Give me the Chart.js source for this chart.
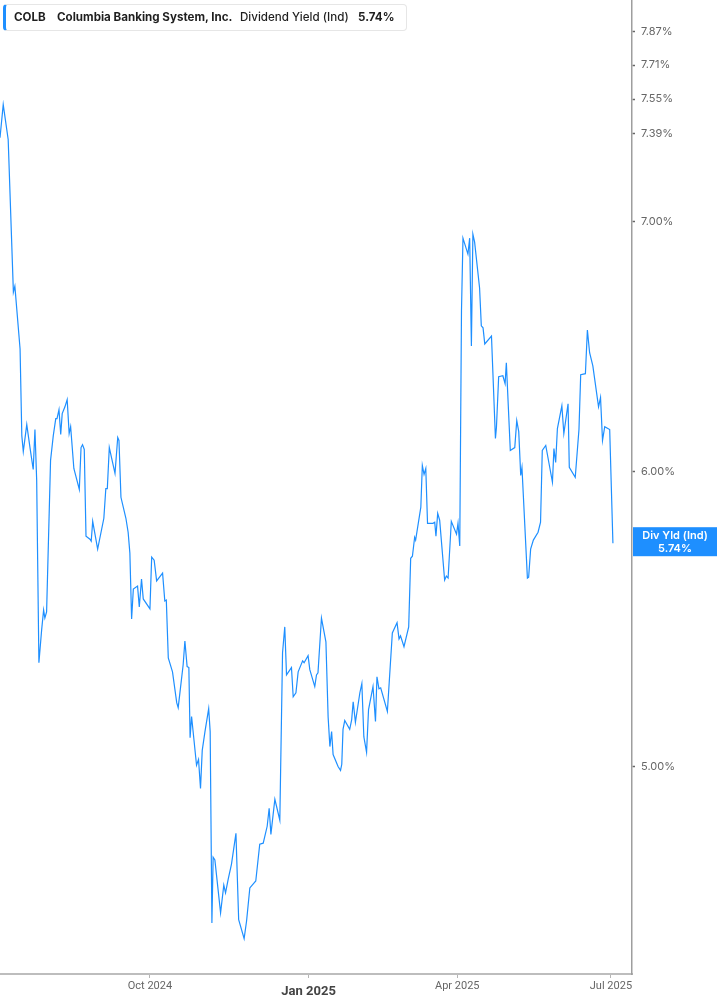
<!DOCTYPE html>
<html>
<head>
<meta charset="utf-8">
<script src="https://cdn.jsdelivr.net/npm/chart.js@4.4.1/dist/chart.umd.min.js"></script>
<style>
  html, body { margin: 0; padding: 0; background: #fff; }
  #wrap { position: relative; width: 717px; height: 1005px; }
  #legend {
    position: absolute; left: 3px; top: 4px; width: 400px; height: 25px;
    border: 1px solid #e6e6e6; border-left: 3px solid #1e8fff; border-radius: 4px;
    background: #fff; font-family: Inter, "Noto Sans", sans-serif; font-size: 11.6px;
    color: #1f1f1f; line-height: 25px; white-space: nowrap;
  }
  #legend span { position: absolute; top: 0; }
  .b { font-weight: 700; }
  .m { font-weight: 500; }
</style>
</head>
<body>
<div id="wrap">
  <canvas id="YieldCanvas" width="717" height="1005"></canvas>
  <div id="legend">
    <span class="b" style="left:8px">COLB</span>
    <span class="b" style="left:51px">Columbia Banking System, Inc.</span>
    <span class="m" style="left:234px">Dividend Yield (Ind)</span>
    <span class="b" style="left:352px">5.74%</span>
  </div>
</div>
<script>
//------------------------------------------------------------------------------
// COLB dividend yield (ind), trading-day index from the first day shown
//------------------------------------------------------------------------------
const tradingDays = [0,1.3,3.3,5.4,6.0,8.1,8.8,9.4,10.8,12.1,13.4,14.1,14.8,15.7,16.8,17.6,18.1,18.8,20.4,21.5,
  22.5,23.0,23.8,24.5,25.1,26.2,27.1,27.9,28.5,29.8,32.0,32.7,33.3,34.0,34.7,36.3,36.8,37.4,39.4,41.9,
  42.7,43.3,44.1,46.4,47.5,48.0,48.8,50.8,51.7,52.4,53.1,53.8,55.5,56.2,57.1,57.8,60.5,61.2,62.2,63.2,
  65.6,66.5,67.1,67.9,69.6,71.3,71.9,73.9,74.6,75.5,76.2,76.7,77.3,79.3,80.1,80.9,81.6,82.7,84.2,84.8,
  85.5,86.0,86.7,89.0,90.3,91.0,92.1,93.4,95.2,96.3,98.5,99.5,100.8,103.2,104.8,106.2,107.8,108.6,109.3,110.9,
  112.9,114.0,114.9,115.6,117.6,118.3,119.4,120.3,122.1,122.7,124.3,125.0,127.0,127.7,128.3,129.7,131.5,132.4,133.1,133.8,
  134.4,136.4,137.4,137.9,138.4,139.1,141.1,141.9,142.5,143.4,145.2,146.0,146.8,147.9,148.7,150.5,151.5,152.1,152.9,153.6,
  156.3,158.3,160.2,161.0,161.6,163.0,164.9,165.7,166.4,167.3,167.7,169.8,170.4,171.1,171.8,172.5,174.7,175.4,175.9,176.6,
  177.4,179.4,180.1,180.8,182.1,184.2,184.8,185.5,186.2,186.8,188.8,189.5,190.2,190.8,191.5,193.5,194.2,194.9,195.6,198.3,
  199.9,200.3,201.2,202.9,203.8,204.3,205.9,207.7,208.5,209.3,210.1,210.6,212.8,213.3,214.1,215.2,217.1,218.1,218.8,220.2,
  222.9,223.5,224.2,224.9,226.7,227.5,229.2,229.7,232.1,233.6,234.3,236.2,237.0,237.9,239.2,241.5,242.3,243.1,244.0,246.0,
  247.3]

const divYield = [7.372,7.524,7.364,6.702,6.727,6.471,6.134,6.074,6.176,6.089,6.007,6.157,5.967,5.332,5.441,5.508,5.481,5.502,6.041,6.134,
  6.199,6.199,6.233,6.138,6.218,6.244,6.272,6.142,6.168,6.011,5.934,6.089,6.100,6.082,5.765,5.754,5.747,5.818,5.719,5.829,
  5.937,5.937,6.089,5.993,6.127,6.116,5.905,5.829,5.779,5.705,5.478,5.580,5.590,5.519,5.614,5.546,5.512,5.691,5.680,5.608,
  5.635,5.539,5.542,5.348,5.302,5.202,5.186,5.325,5.404,5.319,5.316,5.091,5.158,5.005,5.023,4.934,5.051,5.110,5.183,5.110,
  4.541,4.729,4.721,4.569,4.648,4.626,4.666,4.709,4.799,4.550,4.497,4.547,4.640,4.660,4.767,4.770,4.820,4.874,4.796,4.901,
  4.838,5.365,5.451,5.292,5.316,5.221,5.234,5.302,5.338,5.332,5.355,5.309,5.254,5.292,5.299,5.481,5.401,5.155,5.063,5.110,
  5.038,5.001,4.989,5.008,5.117,5.145,5.117,5.148,5.205,5.139,5.234,5.264,5.094,5.045,5.180,5.254,5.142,5.286,5.247,5.250,
  5.174,5.431,5.465,5.411,5.421,5.385,5.451,5.687,5.694,5.761,5.751,5.869,6.022,5.989,6.011,5.811,5.811,5.815,5.765,5.847,
  5.822,5.611,5.625,5.618,5.818,5.772,5.811,5.730,6.624,6.929,6.861,6.929,6.483,6.946,6.912,6.719,6.564,6.556,6.491,6.523,
  6.123,6.165,6.361,6.365,6.334,6.416,6.078,6.089,6.191,6.149,5.985,6.015,5.618,5.621,5.719,5.751,5.779,5.815,6.078,6.097,
  5.960,6.085,6.033,6.161,6.248,6.142,6.256,6.015,5.978,6.157,6.369,6.373,6.547,6.456,6.404,6.244,6.280,6.116,6.168,6.157,
  5.740]

// x axis ticks (trading-day index of first session of the month)
const monthTickDays = [60.5, 124.5, 184.5, 246.5]
const monthTickLabels = ['Oct 2024', 'Jan 2025', 'Apr 2025', 'Jul 2025']

// y axis ticks (percent)
const yieldTicks = [5.00, 6.00, 7.00, 7.39, 7.55, 7.71, 7.87]

const lineColor = '#1e8fff'
const lastValue = divYield[divYield.length - 1]

let points = []
for (let i = 0; i < Math.min(tradingDays.length, divYield.length); i++) {
    points.push({ x: tradingDays[i], y: divYield[i] })
}

// no extra room for half labels at the ends of the axes
function noEndPadding(scale) {
    scale.paddingTop = 0
    scale.paddingBottom = 0
    scale.paddingLeft = 0
    scale.paddingRight = 0
}

// value tag on the right axis at the last point
const lastValueTag = {
    id: 'lastValueTag',
    afterDraw(chart) {
        const ctx = chart.ctx
        const yPix = chart.scales.y.getPixelForValue(lastValue)
        const left = chart.chartArea.right + 1
        const w = chart.width - left
        ctx.save()
        ctx.fillStyle = lineColor
        ctx.fillRect(left, yPix - 16, w, 29)
        ctx.fillStyle = '#fff'
        ctx.font = '600 11px Inter, "Noto Sans", sans-serif'
        ctx.textAlign = 'center'
        ctx.textBaseline = 'middle'
        ctx.fillText('Div Yld (Ind)', left + w / 2, yPix - 8)
        ctx.fillText(lastValue.toFixed(2) + '%', left + w / 2, yPix + 5)
        ctx.restore()
    }
}

const yieldCanvas = document.getElementById('YieldCanvas')
const yieldChart = new Chart(yieldCanvas, {
    type: 'line',
    data: {
        datasets: [{
            label: 'Dividend Yield (Ind)',
            data: points,
            borderColor: lineColor,
            borderWidth: 1.2,
            pointRadius: 0,
            tension: 0,
            fill: false
        }]
    },
    options: {
        responsive: false,
        animation: false,
        layout: { padding: 0 },
        plugins: {
            legend: { display: false },
            tooltip: { enabled: false }
        },
        scales: {
            x: {
                type: 'linear',
                min: 0,
                max: 255,
                afterBuildTicks: (scale) => { scale.ticks = monthTickDays.map(v => ({ value: v })) },
                afterFit: (scale) => { scale.height = 31; noEndPadding(scale) },
                grid: { drawOnChartArea: false, drawTicks: true, tickLength: 4, tickColor: '#b5b5b5', tickWidth: 1 },
                border: { display: true, color: '#bdbdbd', width: 2 },
                ticks: {
                    padding: 0,
                    maxRotation: 0,
                    color: (ctx) => ctx.index === 1 ? '#444' : '#666',
                    font: (ctx) => ctx.index === 1
                        ? { family: 'Roboto, Inter, sans-serif', size: 13, weight: '700', lineHeight: 2.1 }
                        : { family: 'Roboto, Inter, sans-serif', size: 11, weight: '400', lineHeight: 1.45 },
                    callback: (value, index) => monthTickLabels[index]
                }
            },
            y: {
                type: 'logarithmic',
                position: 'right',
                min: 4.409,
                max: 8.026,
                afterBuildTicks: (scale) => { scale.ticks = yieldTicks.map(v => ({ value: v })) },
                afterFit: (scale) => { scale.width = 85; noEndPadding(scale) },
                grid: { drawOnChartArea: false, drawTicks: true, tickLength: 3, tickColor: '#666', tickWidth: 1.5 },
                border: { display: true, color: '#9e9e9e', width: 1.5 },
                ticks: {
                    padding: 6,
                    color: '#666',
                    font: { family: 'Inter, "Noto Sans", sans-serif', size: 11 },
                    callback: (value) => Number(value).toFixed(2) + '%'
                }
            }
        }
    },
    plugins: [lastValueTag]
})
</script>
</body>
</html>
